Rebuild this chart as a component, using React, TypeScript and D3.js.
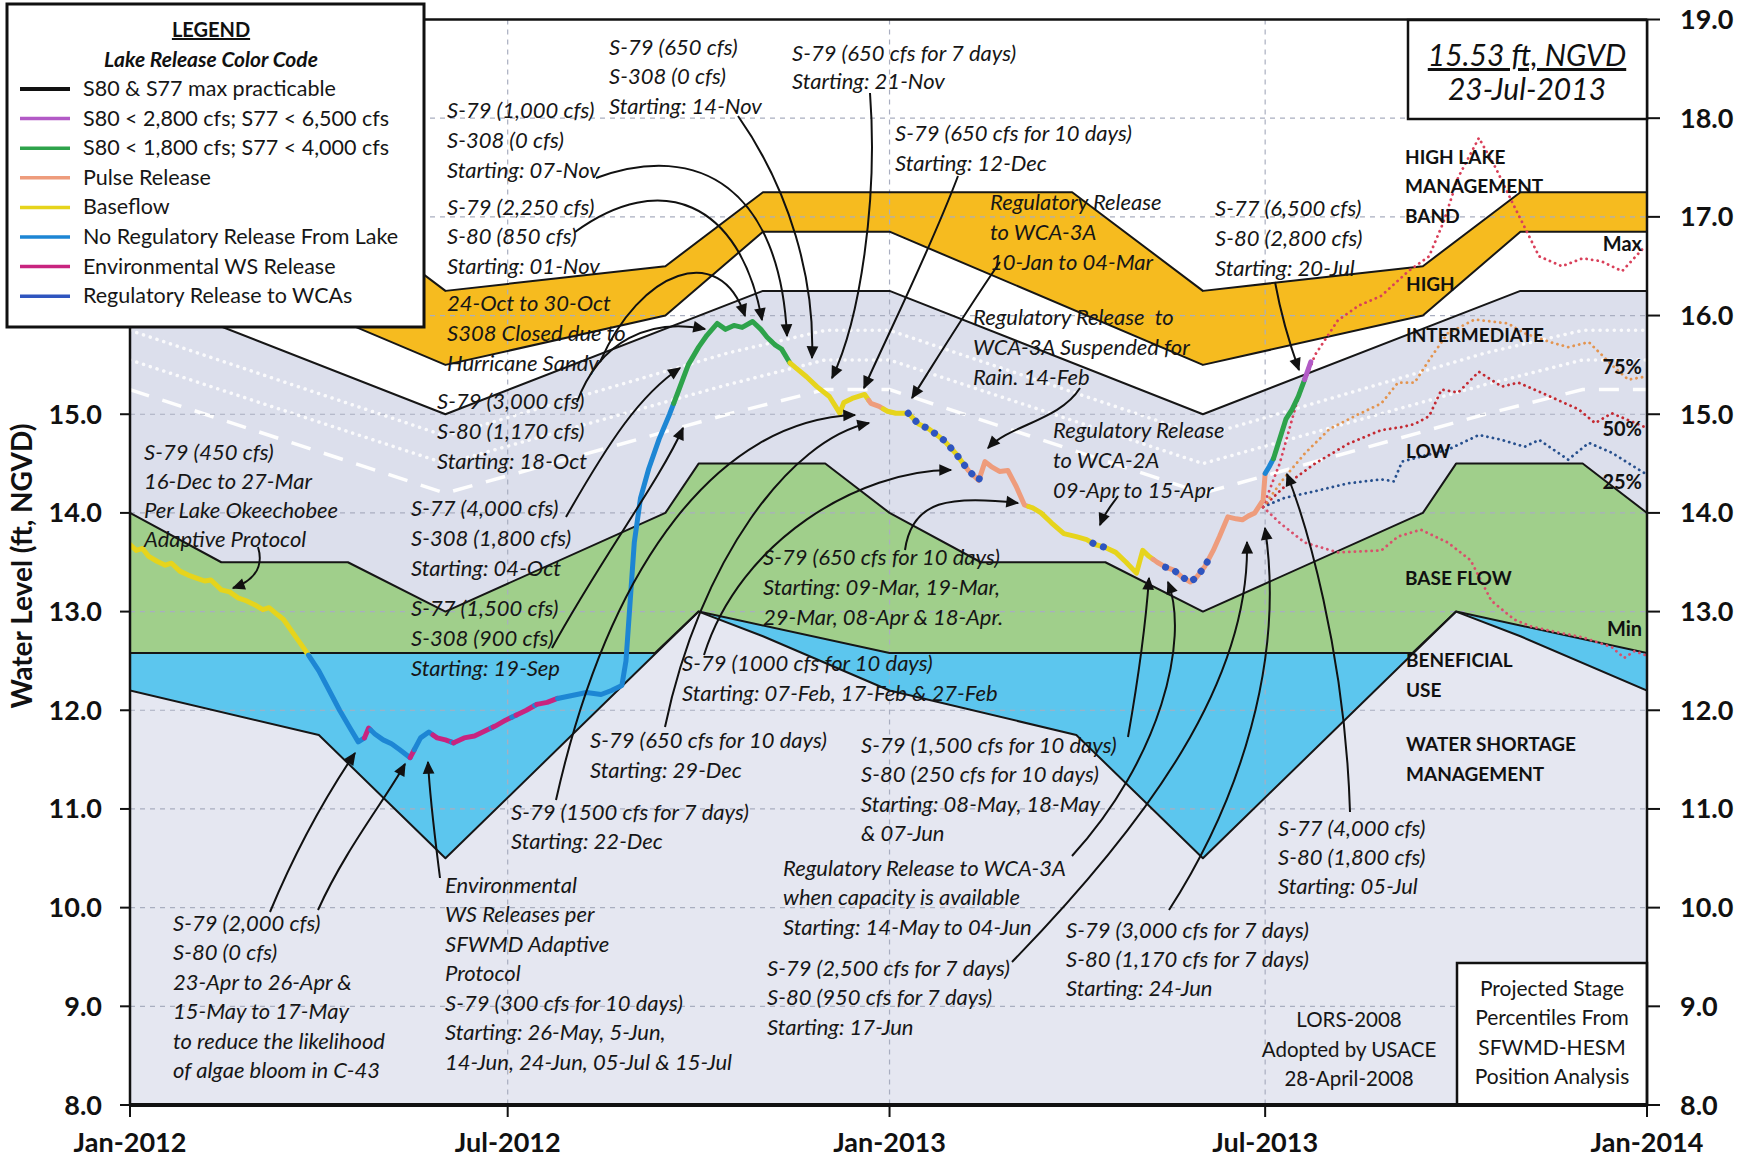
import React from 'react';
import * as d3 from 'd3';

type Pt = [string, number];

// ---------- LORS-2008 schedule lines (date, ft NGVD) ----------
const bandTop: Pt[] = [
  ['2012-01-01', 17.25], ['2012-03-30', 17.25], ['2012-06-01', 16.25], ['2012-09-15', 16.5], ['2012-11-01', 17.25],
  ['2013-03-30', 17.25], ['2013-06-01', 16.25], ['2013-09-15', 16.5], ['2013-11-01', 17.25], ['2014-01-01', 17.25],
];
const bandBottom: Pt[] = [
  ['2012-01-01', 16.85], ['2012-06-01', 15.5], ['2012-09-15', 16.0], ['2012-11-01', 16.85], ['2013-01-01', 16.85],
  ['2013-06-01', 15.5], ['2013-09-15', 16.0], ['2013-11-01', 16.85], ['2014-01-01', 16.85],
];
const intermediateTop: Pt[] = [
  ['2012-01-01', 16.25], ['2012-06-01', 15.0], ['2012-11-01', 16.25], ['2013-01-01', 16.25],
  ['2013-06-01', 15.0], ['2013-11-01', 16.25], ['2014-01-01', 16.25],
];
const baseFlowTop: Pt[] = [
  ['2012-01-01', 14.0], ['2012-02-14', 13.5], ['2012-04-15', 13.5], ['2012-06-01', 13.0], ['2012-09-15', 14.0],
  ['2012-10-01', 14.5], ['2012-12-01', 14.5], ['2013-01-01', 14.0], ['2013-02-14', 13.5], ['2013-04-15', 13.5],
  ['2013-06-01', 13.0], ['2013-09-15', 14.0], ['2013-10-01', 14.5], ['2013-12-01', 14.5], ['2014-01-01', 14.0],
];
const baseFlowBottom: Pt[] = [
  ['2012-01-01', 12.58], ['2012-09-10', 12.58], ['2012-10-01', 13.0], ['2013-01-01', 12.58],
  ['2013-09-10', 12.58], ['2013-10-01', 13.0], ['2014-01-01', 12.58],
];
const waterShortage: Pt[] = [
  ['2012-01-01', 12.2], ['2012-04-01', 11.75], ['2012-06-01', 10.5], ['2012-10-01', 13.0], ['2012-11-01', 12.75],
  ['2013-01-01', 12.2], ['2013-04-01', 11.75], ['2013-06-01', 10.5], ['2013-10-01', 13.0], ['2013-11-01', 12.75],
  ['2014-01-01', 12.2],
];
const axisFloor: Pt[] = [['2012-01-01', 8], ['2014-01-01', 8]];
const lowDash: Pt[] = [
  ['2012-01-01', 15.25], ['2012-06-01', 14.2], ['2012-10-15', 15.0], ['2012-12-01', 15.25], ['2013-01-01', 15.25],
  ['2013-06-01', 14.2], ['2013-10-15', 15.0], ['2013-12-01', 15.25], ['2014-01-01', 15.25],
];
const lowDotA: Pt[] = [
  ['2012-01-01', 15.55], ['2012-06-01', 14.5], ['2012-10-15', 15.3], ['2012-12-01', 15.55], ['2013-01-01', 15.55],
  ['2013-06-01', 14.5], ['2013-10-15', 15.3], ['2013-12-01', 15.55], ['2014-01-01', 15.55],
];
const lowDotB: Pt[] = [
  ['2012-01-01', 15.85], ['2012-06-01', 14.78], ['2012-10-15', 15.62], ['2012-12-01', 15.85], ['2013-01-01', 15.85],
  ['2013-06-01', 14.78], ['2013-10-15', 15.62], ['2013-12-01', 15.85], ['2014-01-01', 15.85],
];

// ---------- observed lake stage ----------
const stage: Pt[] = [
  ['2012-01-01', 13.68], ['2012-01-04', 13.62], ['2012-01-07', 13.64], ['2012-01-10', 13.56], ['2012-01-14', 13.51],
  ['2012-01-18', 13.47], ['2012-01-21', 13.49], ['2012-01-25', 13.41], ['2012-01-29', 13.37], ['2012-02-02', 13.34],
  ['2012-02-06', 13.31], ['2012-02-09', 13.32], ['2012-02-14', 13.22], ['2012-02-18', 13.2], ['2012-02-22', 13.14],
  ['2012-02-26', 13.11], ['2012-03-01', 13.07], ['2012-03-05', 13.02], ['2012-03-08', 13.04], ['2012-03-12', 12.97],
  ['2012-03-15', 12.92], ['2012-03-19', 12.8], ['2012-03-23', 12.68], ['2012-03-27', 12.56], ['2012-04-01', 12.4],
  ['2012-04-06', 12.2], ['2012-04-11', 12.0], ['2012-04-16', 11.82], ['2012-04-20', 11.68], ['2012-04-23', 11.72],
  ['2012-04-25', 11.82], ['2012-04-28', 11.76], ['2012-05-02', 11.7], ['2012-05-06', 11.66], ['2012-05-10', 11.6],
  ['2012-05-15', 11.52], ['2012-05-17', 11.6], ['2012-05-20', 11.72], ['2012-05-24', 11.78], ['2012-05-28', 11.72],
  ['2012-06-01', 11.7], ['2012-06-05', 11.67], ['2012-06-10', 11.72], ['2012-06-15', 11.74], ['2012-06-20', 11.79],
  ['2012-06-25', 11.84], ['2012-06-30', 11.9], ['2012-07-05', 11.95], ['2012-07-10', 12.0], ['2012-07-15', 12.06],
  ['2012-07-20', 12.08], ['2012-07-25', 12.12], ['2012-08-01', 12.15], ['2012-08-08', 12.18], ['2012-08-15', 12.16],
  ['2012-08-20', 12.2], ['2012-08-25', 12.25], ['2012-08-27', 12.5], ['2012-08-29', 13.1], ['2012-08-31', 13.7],
  ['2012-09-03', 14.15], ['2012-09-07', 14.45], ['2012-09-12', 14.75], ['2012-09-17', 15.0], ['2012-09-21', 15.22],
  ['2012-09-26', 15.5], ['2012-10-01', 15.68], ['2012-10-05', 15.8], ['2012-10-10', 15.92], ['2012-10-14', 15.86],
  ['2012-10-18', 15.9], ['2012-10-22', 15.88], ['2012-10-27', 15.94], ['2012-10-31', 15.86], ['2012-11-03', 15.78],
  ['2012-11-07', 15.7], ['2012-11-10', 15.66], ['2012-11-14', 15.52], ['2012-11-18', 15.45], ['2012-11-22', 15.38],
  ['2012-11-27', 15.28], ['2012-12-03', 15.18], ['2012-12-06', 15.08], ['2012-12-08', 15.01], ['2012-12-10', 15.12],
  ['2012-12-14', 15.16], ['2012-12-20', 15.2], ['2012-12-23', 15.11], ['2012-12-27', 15.08], ['2012-12-31', 15.03],
  ['2013-01-04', 15.01], ['2013-01-10', 15.01], ['2013-01-15', 14.9], ['2013-01-20', 14.85], ['2013-01-27', 14.74],
  ['2013-02-02', 14.6], ['2013-02-08', 14.43], ['2013-02-13', 14.33], ['2013-02-16', 14.52], ['2013-02-19', 14.47],
  ['2013-02-23', 14.42], ['2013-02-27', 14.43], ['2013-03-03', 14.27], ['2013-03-07', 14.08], ['2013-03-11', 14.05],
  ['2013-03-15', 14.0], ['2013-03-20', 13.9], ['2013-03-26', 13.79], ['2013-04-01', 13.76], ['2013-04-06', 13.73],
  ['2013-04-10', 13.68], ['2013-04-15', 13.65], ['2013-04-20', 13.6], ['2013-04-25', 13.5], ['2013-04-30', 13.39],
  ['2013-05-03', 13.62], ['2013-05-06', 13.56], ['2013-05-10', 13.5], ['2013-05-14', 13.45], ['2013-05-18', 13.42],
  ['2013-05-22', 13.35], ['2013-05-26', 13.3], ['2013-05-29', 13.35], ['2013-06-02', 13.46], ['2013-06-06', 13.62],
  ['2013-06-09', 13.76], ['2013-06-13', 13.96], ['2013-06-17', 13.94], ['2013-06-20', 13.93], ['2013-06-23', 13.97],
  ['2013-06-26', 14.0], ['2013-06-30', 14.13], ['2013-07-01', 14.4], ['2013-07-03', 14.47], ['2013-07-05', 14.55],
  ['2013-07-08', 14.75], ['2013-07-11', 14.95], ['2013-07-14', 15.05], ['2013-07-17', 15.18], ['2013-07-20', 15.35],
  ['2013-07-23', 15.53],
];

// release category of each stretch of the stage record
const stageSegments: [string, string, string][] = [
  ['2012-01-01', '2012-03-27', 'base'], ['2012-03-27', '2012-04-23', 'noreg'], ['2012-04-23', '2012-04-26', 'env'],
  ['2012-04-26', '2012-05-15', 'noreg'], ['2012-05-15', '2012-05-17', 'env'], ['2012-05-17', '2012-05-26', 'noreg'],
  ['2012-05-26', '2012-06-04', 'env'], ['2012-06-04', '2012-06-05', 'noreg'], ['2012-06-05', '2012-06-23', 'env'],
  ['2012-06-23', '2012-06-24', 'noreg'], ['2012-06-24', '2012-07-03', 'env'], ['2012-07-03', '2012-07-05', 'noreg'],
  ['2012-07-05', '2012-07-14', 'env'], ['2012-07-14', '2012-07-15', 'noreg'], ['2012-07-15', '2012-07-25', 'env'],
  ['2012-07-25', '2012-09-19', 'noreg'], ['2012-09-19', '2012-11-14', 's1800'], ['2012-11-14', '2012-12-22', 'base'],
  ['2012-12-22', '2012-12-29', 'pulse'], ['2012-12-29', '2013-02-07', 'base'], ['2013-02-07', '2013-03-09', 'pulse'],
  ['2013-03-09', '2013-05-08', 'base'], ['2013-05-08', '2013-07-01', 'pulse'], ['2013-07-01', '2013-07-05', 'noreg'],
  ['2013-07-05', '2013-07-20', 's1800'], ['2013-07-20', '2013-07-23', 's2800'],
];
const wcaSegments: [string, string][] = [
  ['2013-01-10', '2013-02-14'], ['2013-04-09', '2013-04-15'], ['2013-05-14', '2013-06-04'],
];

// ---------- projected stage percentiles ----------
const projMax: Pt[] = [
  ['2013-06-30', 14.06], ['2013-07-08', 14.5], ['2013-07-16', 15.1], ['2013-07-25', 15.6], ['2013-08-05', 15.95],
  ['2013-08-15', 16.1], ['2013-08-26', 16.2], ['2013-09-08', 16.45], ['2013-09-18', 16.6], ['2013-09-25', 16.95],
  ['2013-10-02', 17.4], ['2013-10-12', 17.8], ['2013-10-20', 17.5], ['2013-10-28', 17.15], ['2013-11-10', 16.6],
  ['2013-11-21', 16.5], ['2013-12-01', 16.58], ['2013-12-10', 16.55], ['2013-12-20', 16.45], ['2013-12-31', 16.7],
];
const proj75: Pt[] = [
  ['2013-06-30', 14.06], ['2013-07-10', 14.35], ['2013-07-20', 14.6], ['2013-08-01', 14.85], ['2013-08-15', 15.0],
  ['2013-08-26', 15.11], ['2013-09-03', 15.32], ['2013-09-11', 15.32], ['2013-09-19', 15.58], ['2013-09-27', 15.82],
  ['2013-10-10', 15.96], ['2013-10-26', 15.92], ['2013-11-03', 15.82], ['2013-11-17', 15.72], ['2013-11-24', 15.68],
  ['2013-12-04', 15.73], ['2013-12-16', 15.48], ['2013-12-23', 15.35], ['2013-12-31', 15.38],
];
const proj50: Pt[] = [
  ['2013-06-30', 14.06], ['2013-07-12', 14.3], ['2013-07-25', 14.5], ['2013-08-10', 14.7], ['2013-08-26', 14.84],
  ['2013-09-05', 14.87], ['2013-09-11', 14.9], ['2013-09-18', 14.98], ['2013-09-24', 15.25], ['2013-10-02', 15.22],
  ['2013-10-12', 15.43], ['2013-10-23', 15.28], ['2013-10-31', 15.32], ['2013-11-11', 15.22], ['2013-11-29', 15.05],
  ['2013-12-07', 14.91], ['2013-12-15', 15.01], ['2013-12-31', 14.87],
];
const proj25: Pt[] = [
  ['2013-06-30', 14.06], ['2013-07-10', 14.15], ['2013-07-25', 14.22], ['2013-08-10', 14.3], ['2013-08-26', 14.34],
  ['2013-09-01', 14.32], ['2013-09-05', 14.52], ['2013-09-14', 14.57], ['2013-09-27', 14.64], ['2013-10-12', 14.79],
  ['2013-10-23', 14.74], ['2013-11-03', 14.67], ['2013-11-10', 14.74], ['2013-11-24', 14.54], ['2013-12-04', 14.71],
  ['2013-12-15', 14.61], ['2013-12-31', 14.4],
];
const projMin: Pt[] = [
  ['2013-06-30', 14.06], ['2013-07-08', 13.9], ['2013-07-20', 13.7], ['2013-08-05', 13.6], ['2013-08-26', 13.62],
  ['2013-09-03', 13.76], ['2013-09-14', 13.83], ['2013-09-27', 13.7], ['2013-10-08', 13.52], ['2013-10-18', 13.11],
  ['2013-10-29', 12.92], ['2013-11-06', 12.85], ['2013-11-21', 12.78], ['2013-12-01', 12.74], ['2013-12-15', 12.64],
  ['2013-12-21', 12.53], ['2013-12-26', 12.6], ['2013-12-31', 12.56],
];

// ---------- axes ----------
const yTicks = [8, 9, 10, 11, 12, 13, 14, 15, 16, 17, 18, 19];
const xTickDates = ['2012-01-01', '2012-07-01', '2013-01-01', '2013-07-01', '2014-01-01'];
const xTickLabels = ['Jan-2012', 'Jul-2012', 'Jan-2013', 'Jul-2013', 'Jan-2014'];

// ---------- legend ----------
const legendLabels = [
  'S80 & S77 max practicable', 'S80 < 2,800 cfs; S77 < 6,500 cfs', 'S80 < 1,800 cfs; S77 < 4,000 cfs',
  'Pulse Release', 'Baseflow', 'No Regulatory Release From Lake', 'Environmental WS Release', 'Regulatory Release to WCAs',
];
const legendKeys = ['max', 's2800', 's1800', 'pulse', 'base', 'noreg', 'env', 'wca'];

const COLORS: Record<string, string> = {
  max: '#111111', s2800: '#b25ac6', s1800: '#2ea34b', pulse: '#ee9c7c', base: '#e6d41c',
  noreg: '#1d86d4', env: '#c8247f', wca: '#2f55bf',
};

// ---------- annotations (layout) ----------
const notes: { x: number; y: number; dy: number; lines: string[] }[] = [
  { x: 609, y: 47, dy: 29.5, lines: ['S-79 (650 cfs)', 'S-308 (0 cfs)', 'Starting: 14-Nov'] },
  { x: 792, y: 53, dy: 28.5, lines: ['S-79 (650 cfs for 7 days)', 'Starting: 21-Nov'] },
  { x: 447, y: 110, dy: 30, lines: ['S-79 (1,000 cfs)', 'S-308 (0 cfs)', 'Starting: 07-Nov'] },
  { x: 447, y: 207, dy: 29.5, lines: ['S-79 (2,250 cfs)', 'S-80 (850 cfs)', 'Starting: 01-Nov'] },
  { x: 447, y: 303, dy: 30, lines: ['24-Oct to 30-Oct', 'S308 Closed due to', 'Hurricane Sandy'] },
  { x: 437, y: 401, dy: 30, lines: ['S-79 (3,000 cfs)', 'S-80 (1,170 cfs)', 'Starting: 18-Oct'] },
  { x: 144, y: 452, dy: 29, lines: ['S-79 (450 cfs)', '16-Dec to 27-Mar', 'Per Lake Okeechobee', 'Adaptive Protocol'] },
  { x: 411, y: 508, dy: 30, lines: ['S-77 (4,000 cfs)', 'S-308 (1,800 cfs)', 'Starting: 04-Oct'] },
  { x: 411, y: 608, dy: 30, lines: ['S-77 (1,500 cfs)', 'S-308 (900 cfs)', 'Starting: 19-Sep'] },
  { x: 895, y: 133, dy: 30, lines: ['S-79 (650 cfs for 10 days)', 'Starting: 12-Dec'] },
  { x: 990, y: 202, dy: 30, lines: ['Regulatory Release', 'to WCA-3A', '10-Jan to 04-Mar'] },
  { x: 973, y: 317, dy: 30, lines: ['Regulatory Release  to', 'WCA-3A Suspended for', 'Rain. 14-Feb'] },
  { x: 1053, y: 430, dy: 30, lines: ['Regulatory Release', 'to WCA-2A', '09-Apr to 15-Apr'] },
  { x: 1215, y: 208, dy: 30, lines: ['S-77 (6,500 cfs)', 'S-80 (2,800 cfs)', 'Starting: 20-Jul'] },
  { x: 763, y: 557, dy: 30, lines: ['S-79 (650 cfs for 10 days)', 'Starting: 09-Mar, 19-Mar,', '29-Mar, 08-Apr & 18-Apr.'] },
  { x: 682, y: 663, dy: 30, lines: ['S-79 (1000 cfs for 10 days)', 'Starting: 07-Feb, 17-Feb & 27-Feb'] },
  { x: 590, y: 740, dy: 30, lines: ['S-79 (650 cfs for 10 days)', 'Starting: 29-Dec'] },
  { x: 511, y: 812, dy: 29, lines: ['S-79 (1500 cfs for 7 days)', 'Starting: 22-Dec'] },
  { x: 861, y: 745, dy: 29.5, lines: ['S-79 (1,500 cfs for 10 days)', 'S-80 (250 cfs for 10 days)', 'Starting: 08-May, 18-May', '& 07-Jun'] },
  { x: 783, y: 868, dy: 29.5, lines: ['Regulatory Release to WCA-3A', 'when capacity is available', 'Starting: 14-May to 04-Jun'] },
  { x: 767, y: 968, dy: 29.5, lines: ['S-79 (2,500 cfs for 7 days)', 'S-80 (950 cfs for 7 days)', 'Starting: 17-Jun'] },
  { x: 1066, y: 930, dy: 29, lines: ['S-79 (3,000 cfs for 7 days)', 'S-80 (1,170 cfs for 7 days)', 'Starting: 24-Jun'] },
  { x: 1278, y: 828, dy: 29, lines: ['S-77 (4,000 cfs)', 'S-80 (1,800 cfs)', 'Starting: 05-Jul'] },
  { x: 173, y: 923, dy: 29.5, lines: ['S-79 (2,000 cfs)', 'S-80 (0 cfs)', '23-Apr to 26-Apr &', '15-May to 17-May', 'to reduce the likelihood', 'of algae bloom in C-43'] },
  { x: 445, y: 885, dy: 29.5, lines: ['Environmental', 'WS Releases per', 'SFWMD Adaptive', 'Protocol', 'S-79 (300 cfs for 10 days)', 'Starting: 26-May, 5-Jun,', '14-Jun, 24-Jun, 05-Jul & 15-Jul'] },
];

const arrows = [
  'M552,648 C600,560 660,480 683,428',
  'M566,517 C610,440 640,395 680,368',
  'M577,402 C600,340 650,318 705,329',
  'M600,362 C640,270 720,240 745,316',
  'M575,232 C660,170 740,200 762,320',
  'M596,178 C700,140 780,190 787,336',
  'M738,116 C790,190 815,280 812,358',
  'M870,93 C878,200 860,320 832,378',
  'M958,176 C930,250 890,330 864,388',
  'M1000,262 C960,320 930,370 912,398',
  'M556,800 C610,560 720,420 855,415',
  'M665,727 C700,560 790,440 869,423',
  'M704,655 C740,540 860,470 951,470',
  'M905,550 C912,500 950,495 1018,503',
  'M1080,388 C1060,420 1010,425 988,448',
  'M1118,496 C1112,505 1105,512 1100,525',
  'M1128,737 C1138,680 1146,620 1149,578',
  'M1072,856 C1160,760 1190,640 1168,582',
  'M1012,962 C1150,820 1250,680 1247,542',
  'M1169,910 C1240,800 1285,660 1265,528',
  'M1350,812 C1345,650 1305,520 1287,474',
  'M1275,282 C1282,320 1290,345 1299,370',
  'M258,547 C265,570 250,582 233,588',
  'M270,912 C300,840 330,790 355,753',
  'M318,910 C345,850 385,800 405,764',
  'M440,878 C434,830 430,800 428,762',
];

const zoneLabels: { t: string; x: number; y: number }[] = [
  { t: 'HIGH LAKE', x: 1405, y: 157 }, { t: 'MANAGEMENT', x: 1405, y: 186 }, { t: 'BAND', x: 1405, y: 216 },
  { t: 'HIGH', x: 1406, y: 284 }, { t: 'INTERMEDIATE', x: 1406, y: 335 }, { t: 'LOW', x: 1406, y: 451 },
  { t: 'BASE FLOW', x: 1405, y: 578 }, { t: 'BENEFICIAL', x: 1406, y: 660 }, { t: 'USE', x: 1406, y: 690 },
  { t: 'WATER SHORTAGE', x: 1406, y: 744 }, { t: 'MANAGEMENT', x: 1406, y: 774 },
];
const pctLabels: { t: string; y: number }[] = [
  { t: 'Max', y: 244 }, { t: '75%', y: 367 }, { t: '50%', y: 429 }, { t: '25%', y: 482 }, { t: 'Min', y: 629 },
];

export default function App() {
  const W = 1753, H = 1158;
  const parse = d3.timeParse('%Y-%m-%d');
  const P = (s: string) => parse(s) as Date;
  const x = d3.scaleTime().domain([P('2012-01-01'), P('2014-01-01')]).range([130, 1647]);
  const y = d3.scaleLinear().domain([8, 19]).range([1105, 19.5]);
  const X0 = 130, X1 = 1647, Y0 = 19.5, Y1 = 1105;

  const pts = (s: Pt[]) => s.map(([d, v]) => [x(P(d)), y(v)] as [number, number]);
  const lineGen = d3.line<[number, number]>();
  const lp = (s: Pt[]) => lineGen(pts(s)) || '';
  const band = (up: Pt[], lo: Pt[]) => {
    const a = pts(up), b = pts(lo).reverse();
    return 'M' + a.map(p => p.join(',')).join('L') + 'L' + b.map(p => p.join(',')).join('L') + 'Z';
  };

  const st = stage.map(([d, v]) => ({ t: P(d), v }));
  const bis = d3.bisector((p: { t: Date; v: number }) => p.t).right;
  const valAt = (t: Date) => {
    const i = bis(st, t);
    if (i <= 0) return st[0].v;
    if (i >= st.length) return st[st.length - 1].v;
    const a = st[i - 1], b = st[i];
    const f = (+t - +a.t) / (+b.t - +a.t);
    return a.v + f * (b.v - a.v);
  };
  const slice = (s: string, e: string) => {
    const t0 = P(s), t1 = P(e);
    const arr: [Date, number][] = [[t0, valAt(t0)], ...st.filter(p => p.t > t0 && p.t < t1).map(p => [p.t, p.v] as [Date, number]), [t1, valAt(t1)]];
    return lineGen(arr.map(([t, v]) => [x(t), y(v)] as [number, number])) || '';
  };

  const italic = { fontFamily: 'Lato, "Open Sans", sans-serif', fontStyle: 'italic' as const, fontSize: 22, fill: '#161616' };
  const bold = { fontFamily: 'Lato, "Open Sans", sans-serif', fontWeight: 700, fill: '#111' };

  return (
    <svg width={W} height={H} style={{ position: 'absolute', left: 0, top: 0, background: '#fff' }}>
      <defs>
        <clipPath id="plot"><rect x={X0} y={Y0} width={X1 - X0} height={Y1 - Y0} /></clipPath>
        <marker id="ah" viewBox="0 0 10 10" refX="9" refY="5" markerWidth="15" markerHeight="13" markerUnits="userSpaceOnUse" orient="auto">
          <path d="M0,0.5 L10,5 L0,9.5 z" fill="#111" />
        </marker>
      </defs>

      <g clipPath="url(#plot)">
        <rect x={X0} y={Y0} width={X1 - X0} height={Y1 - Y0} fill="#ffffff" />
        <path d={band(waterShortage, axisFloor)} fill="#e5e7f1" />
        <path d={band(intermediateTop, baseFlowTop)} fill="#dcdfec" />
        <path d={band(bandTop, bandBottom)} fill="#f6bb1f" />
        <path d={band(baseFlowTop, baseFlowBottom)} fill="#a0cf8b" />
        <path d={band(baseFlowBottom, waterShortage)} fill="#5cc6ee" />

        {/* faint sub-band lines */}
        <path d={lp(lowDotB)} fill="none" stroke="#ffffff" strokeWidth={3.5} strokeDasharray="0.1 7" strokeLinecap="round" opacity={0.85} />
        <path d={lp(lowDotA)} fill="none" stroke="#ffffff" strokeWidth={3.5} strokeDasharray="0.1 7" strokeLinecap="round" opacity={0.85} />
        <path d={lp(lowDash)} fill="none" stroke="#ffffff" strokeWidth={3.5} strokeDasharray="20 14" opacity={0.95} />

        {/* grid */}
        {yTicks.slice(1, -1).map(v => (
          <line key={'gy' + v} x1={X0} x2={X1} y1={y(v)} y2={y(v)} stroke="#a9aec0" strokeWidth={1.2} strokeDasharray="5 5" />
        ))}
        {xTickDates.slice(1, -1).map(d => (
          <line key={'gx' + d} x1={x(P(d))} x2={x(P(d))} y1={Y0} y2={Y1} stroke="#a9aec0" strokeWidth={1.2} strokeDasharray="5 5" />
        ))}

        {/* schedule boundary lines */}
        {[bandTop, bandBottom, intermediateTop, baseFlowTop, baseFlowBottom, waterShortage].map((s, i) => (
          <path key={'sl' + i} d={lp(s)} fill="none" stroke="#161616" strokeWidth={2} strokeLinejoin="round" />
        ))}

        {/* projections */}
        <path d={lp(projMin)} fill="none" stroke="#d9506c" strokeWidth={2.8} strokeDasharray="0.1 5.5" strokeLinecap="round" />
        <path d={lp(proj25)} fill="none" stroke="#27508e" strokeWidth={2.8} strokeDasharray="0.1 5.5" strokeLinecap="round" />
        <path d={lp(proj50)} fill="none" stroke="#c42a32" strokeWidth={2.8} strokeDasharray="0.1 5.5" strokeLinecap="round" />
        <path d={lp(proj75)} fill="none" stroke="#e3944f" strokeWidth={2.8} strokeDasharray="0.1 5.5" strokeLinecap="round" />
        <path d={lp(projMax)} fill="none" stroke="#d9405a" strokeWidth={2.8} strokeDasharray="0.1 5.5" strokeLinecap="round" />

        {/* observed stage */}
        {stageSegments.map(([s, e, c], i) => (
          <path key={'st' + i} d={slice(s, e)} fill="none" stroke={COLORS[c]} strokeWidth={5} strokeLinejoin="round" strokeLinecap="round" />
        ))}
        {wcaSegments.map(([s, e], i) => (
          <path key={'wca' + i} d={slice(s, e)} fill="none" stroke={COLORS.wca} strokeWidth={7} strokeDasharray="0.1 11" strokeLinecap="round" />
        ))}
      </g>

      {/* annotation arrows */}
      {arrows.map((d, i) => (
        <path key={'ar' + i} d={d} fill="none" stroke="#111" strokeWidth={2} markerEnd="url(#ah)" />
      ))}

      {/* annotation text */}
      {notes.map((n, i) => (
        <text key={'n' + i} style={italic}>
          {n.lines.map((l, j) => (
            <tspan key={j} x={n.x} y={n.y + j * n.dy + 7.5} xmlSpace="preserve">{l}</tspan>
          ))}
        </text>
      ))}

      {/* zone labels */}
      {zoneLabels.map((z, i) => (
        <text key={'z' + i} x={z.x} y={z.y + 7} style={{ ...bold, fontSize: 19 }}>{z.t}</text>
      ))}
      {pctLabels.map((p, i) => (
        <text key={'p' + i} x={1642} y={p.y + 7} textAnchor="end" style={{ ...bold, fontSize: 20 }}>{p.t}</text>
      ))}

      {/* LORS note */}
      {['LORS-2008', 'Adopted by USACE', '28-April-2008'].map((t, i) => (
        <text key={'lors' + i} x={1349} y={1027 + i * 29.5} textAnchor="middle" style={{ fontFamily: 'Lato, sans-serif', fontSize: 20.5, fill: '#161616' }}>{t}</text>
      ))}

      {/* projected box */}
      <rect x={1457} y={963} width={190} height={142} fill="#fff" stroke="#111" strokeWidth={2.5} />
      {['Projected Stage', 'Percentiles From', 'SFWMD-HESM', 'Position Analysis'].map((t, i) => (
        <text key={'pb' + i} x={1552} y={996 + i * 29.3} textAnchor="middle" style={{ fontFamily: 'Lato, sans-serif', fontSize: 21, fill: '#161616' }}>{t}</text>
      ))}

      {/* frame */}
      <line x1={X0} x2={X0} y1={Y0} y2={Y1} stroke="#111" strokeWidth={2.5} />
      <line x1={X1} x2={X1} y1={Y0} y2={Y1} stroke="#111" strokeWidth={2.5} />
      <line x1={X0} x2={X1} y1={Y0} y2={Y0} stroke="#111" strokeWidth={2.5} />
      <line x1={X0} x2={X1} y1={Y1} y2={Y1} stroke="#111" strokeWidth={4} />

      {/* current stage box */}
      <rect x={1408} y={20} width={239} height={99} fill="#fff" stroke="#111" strokeWidth={2.5} />
      <text x={1527} y={66} textAnchor="middle" textDecoration="underline" style={{ fontFamily: 'Lato, sans-serif', fontStyle: 'italic', fontSize: 30, fill: '#111' }}>15.53 ft, NGVD</text>
      <text x={1527} y={100} textAnchor="middle" style={{ fontFamily: 'Lato, sans-serif', fontStyle: 'italic', fontSize: 30, fill: '#111' }}>23-Jul-2013</text>

      {/* y ticks */}
      {yTicks.map(v => (
        <g key={'yt' + v}>
          <line x1={X0 - 10} x2={X0} y1={y(v)} y2={y(v)} stroke="#111" strokeWidth={2} />
          <line x1={X1} x2={X1 + 13} y1={y(v)} y2={y(v)} stroke="#111" strokeWidth={2} />
          <text x={102} y={y(v) + 9.5} textAnchor="end" style={{ ...bold, fontSize: 27 }}>{v.toFixed(1)}</text>
          <text x={1680} y={y(v) + 9.5} style={{ ...bold, fontSize: 27 }}>{v.toFixed(1)}</text>
        </g>
      ))}
      {/* x ticks */}
      {xTickDates.map((d, i) => (
        <g key={'xt' + d}>
          <line x1={x(P(d))} x2={x(P(d))} y1={Y1} y2={Y1 + 12} stroke="#111" strokeWidth={2} />
          <text x={x(P(d))} y={1152} textAnchor="middle" style={{ ...bold, fontSize: 27 }}>{xTickLabels[i]}</text>
        </g>
      ))}
      <text transform="translate(32,566) rotate(-90)" textAnchor="middle" style={{ ...bold, fontSize: 28 }}>Water Level (ft, NGVD)</text>

      {/* legend */}
      <rect x={7} y={4} width={417} height={323} fill="#fff" stroke="#111" strokeWidth={3} />
      <text x={211} y={37} textAnchor="middle" textDecoration="underline" style={{ ...bold, fontSize: 20 }}>LEGEND</text>
      <text x={211} y={67} textAnchor="middle" style={{ ...bold, fontStyle: 'italic', fontSize: 21 }}>Lake Release Color Code</text>
      {legendLabels.map((l, i) => {
        const cy = 89 + i * 29.6;
        return (
          <g key={'lg' + i}>
            <line x1={20} x2={70} y1={cy} y2={cy} stroke={COLORS[legendKeys[i]]} strokeWidth={i === 0 ? 4 : 3.5} />
            <text x={83} y={cy + 7} style={{ fontFamily: 'Lato, sans-serif', fontSize: 21.5, fill: '#161616' }}>{l}</text>
          </g>
        );
      })}
    </svg>
  );
}
